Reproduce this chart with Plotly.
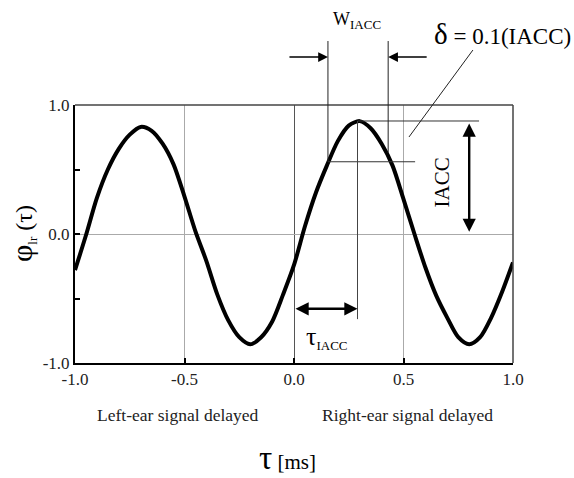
import plotly.graph_objects as go

# ---- data ----
tau_ms = [-1.00, -0.95, -0.90, -0.85, -0.80, -0.75, -0.70, -0.65, -0.60, -0.55,
          -0.50, -0.45, -0.40, -0.35, -0.30, -0.25, -0.20, -0.15, -0.10, -0.05,
          0.00, 0.05, 0.10, 0.15, 0.20, 0.25, 0.30, 0.35, 0.40, 0.45,
          0.50, 0.55, 0.60, 0.65, 0.70, 0.75, 0.80, 0.85, 0.90, 0.95, 1.00]
phi_lr = [-0.28, -0.01, 0.28, 0.50, 0.66, 0.77, 0.83, 0.80, 0.70, 0.54,
          0.29, 0.02, -0.21, -0.47, -0.67, -0.80, -0.855, -0.80, -0.68, -0.47,
          -0.24, 0.06, 0.32, 0.53, 0.72, 0.84, 0.875, 0.82, 0.70, 0.53,
          0.27, 0.00, -0.26, -0.48, -0.65, -0.80, -0.855, -0.80, -0.65, -0.45, -0.22]

x_ticks = [-1.0, -0.5, 0.0, 0.5, 1.0]
x_tick_labels = ["-1.0", "-0.5", "0.0", "0.5", "1.0"]
y_ticks = [-1.0, -0.5, 0.0, 0.5, 1.0]
y_tick_labels = ["-1.0", "", "0.0", "", "1.0"]

# annotated quantities (schematic)
TAU_IACC = 0.29
IACC = 0.876
DELTA_LEVEL = 0.56
W_LEFT = 0.155
W_RIGHT = 0.43
W_RIGHT_Y = 0.63

FONT = "Liberation Serif, Times New Roman, serif"


def py(v):
    """data y -> paper y (y range is [-1, 1])"""
    return (v + 1) / 2


fig = go.Figure()
fig.add_trace(go.Scatter(x=tau_ms, y=phi_lr, mode="lines",
                         line=dict(color="black", width=4, shape="spline", smoothing=0.8),
                         showlegend=False, hoverinfo="skip"))

shapes = []
# top & right frame lines
shapes.append(dict(type="line", xref="paper", yref="paper", x0=0, x1=1, y0=1, y1=1,
                   line=dict(color="#444", width=1.5)))
shapes.append(dict(type="line", xref="paper", yref="paper", x0=1, x1=1, y0=0, y1=1,
                   line=dict(color="#444", width=1.5)))
# horizontal line at the peak
shapes.append(dict(type="line", xref="x", yref="paper", x0=TAU_IACC, x1=0.845,
                   y0=py(IACC), y1=py(IACC), line=dict(color="#333", width=1)))
# delta level line
shapes.append(dict(type="line", xref="x", yref="paper", x0=W_LEFT, x1=0.553,
                   y0=py(DELTA_LEVEL), y1=py(DELTA_LEVEL), line=dict(color="#333", width=1)))
# W_IACC vertical lines
W_TOP = 1.248
shapes.append(dict(type="line", xref="x", yref="paper", x0=W_LEFT, x1=W_LEFT,
                   y0=py(DELTA_LEVEL), y1=W_TOP, line=dict(color="#222", width=1)))
shapes.append(dict(type="line", xref="x", yref="paper", x0=W_RIGHT, x1=W_RIGHT,
                   y0=py(W_RIGHT_Y), y1=W_TOP, line=dict(color="#222", width=1)))
# tau_IACC vertical line
shapes.append(dict(type="line", xref="x", yref="paper", x0=TAU_IACC, x1=TAU_IACC,
                   y0=py(-0.66), y1=py(IACC), line=dict(color="#444", width=1)))
# delta pointer line
shapes.append(dict(type="line", xref="x", yref="paper", x0=0.817, x1=0.525,
                   y0=1.213, y1=0.876, line=dict(color="#222", width=1)))

annotations = []
# W_IACC arrows
annotations.append(dict(x=W_LEFT, y=1.186, xref="x", yref="paper", ax=-40, ay=0,
                        showarrow=True, arrowhead=2, arrowsize=1.3, arrowwidth=1.5,
                        arrowcolor="black", text=""))
annotations.append(dict(x=W_RIGHT, y=1.186, xref="x", yref="paper", ax=40, ay=0,
                        showarrow=True, arrowhead=2, arrowsize=1.3, arrowwidth=1.5,
                        arrowcolor="black", text=""))
# IACC double arrow
annotations.append(dict(x=0.8, y=IACC - 0.02, xref="x", yref="y", axref="x", ayref="y",
                        ax=0.8, ay=0.005, showarrow=True, arrowhead=2, startarrowhead=2,
                        arrowside="end+start", arrowsize=1.1, startarrowsize=1.1,
                        arrowwidth=2.4, arrowcolor="black", text=""))
# tau_IACC double arrow
annotations.append(dict(x=TAU_IACC, y=-0.58, xref="x", yref="y", axref="x", ayref="y",
                        ax=0.0, ay=-0.58, showarrow=True, arrowhead=2, startarrowhead=2,
                        arrowside="end+start", arrowsize=1.1, startarrowsize=1.1,
                        arrowwidth=2.4, arrowcolor="black", text=""))
# texts
annotations.append(dict(x=0.15, y=-0.80, xref="x", yref="y", showarrow=False,
                        xanchor="center", yanchor="middle",
                        text="τ<sub><span style='font-size:13px'>IACC</span></sub>",
                        font=dict(family=FONT, size=26, color="black")))
annotations.append(dict(x=0.288, y=1.329, xref="x", yref="paper", showarrow=False,
                        xanchor="center", yanchor="middle",
                        text="W<sub><span style='font-size:13px'>IACC</span></sub>",
                        font=dict(family=FONT, size=18, color="black")))
annotations.append(dict(x=0.63, y=1.275, xref="x", yref="paper", showarrow=False,
                        xanchor="left", yanchor="middle",
                        text="<span style='font-size:29px'>δ</span> = 0.1(IACC)",
                        font=dict(family=FONT, size=23, color="black")))
annotations.append(dict(x=0.676, y=0.40, xref="x", yref="y", showarrow=False,
                        xanchor="center", yanchor="middle",
                        textangle=-90, text="IACC",
                        font=dict(family=FONT, size=21, color="black")))
annotations.append(dict(x=-0.53, y=0, xref="x", yref="paper", yshift=-52,
                        xanchor="center", yanchor="middle",
                        showarrow=False, text="Left-ear signal delayed",
                        font=dict(family=FONT, size=17.5, color="#222")))
annotations.append(dict(x=0.52, y=0, xref="x", yref="paper", yshift=-52,
                        xanchor="center", yanchor="middle",
                        showarrow=False, text="Right-ear signal delayed",
                        font=dict(family=FONT, size=17.5, color="#222")))
annotations.append(dict(x=-0.03, y=0, xref="x", yref="paper", yshift=-95,
                        xanchor="center", yanchor="middle",
                        showarrow=False,
                        text="<span style='font-size:33px'>τ</span> [ms]",
                        font=dict(family=FONT, size=21, color="black")))
annotations.append(dict(x=-0.121, y=0.5, xref="paper", yref="paper", showarrow=False,
                        xanchor="center", yanchor="middle",
                        textangle=-90,
                        text="<span style='font-size:30px'>φ</span><sub><span style='font-size:13px'>lr</span></sub> (τ)",
                        font=dict(family=FONT, size=24, color="black")))

fig.update_layout(
    width=574, height=478,
    margin=dict(l=75, r=61, t=105, b=115),
    paper_bgcolor="white", plot_bgcolor="white",
    font=dict(family=FONT, size=17, color="#222"),
    shapes=shapes, annotations=annotations,
    xaxis=dict(range=[-1, 1], tickvals=x_ticks, ticktext=x_tick_labels,
               showgrid=True, gridcolor="#aaa", gridwidth=1,
               zeroline=True, zerolinecolor="#555", zerolinewidth=1,
               showline=True, linecolor="black", linewidth=2,
               ticks="inside", ticklen=5, tickwidth=1.5, tickcolor="black",
               tickfont=dict(family=FONT, size=17, color="#222")),
    yaxis=dict(range=[-1, 1], tickvals=y_ticks, ticktext=y_tick_labels,
               showgrid=False,
               zeroline=True, zerolinecolor="#aaa", zerolinewidth=1,
               showline=True, linecolor="black", linewidth=2,
               ticks="inside", ticklen=5, tickwidth=1.5, tickcolor="black",
               tickfont=dict(family=FONT, size=17, color="#222")),
)

fig.write_html("out.html")
